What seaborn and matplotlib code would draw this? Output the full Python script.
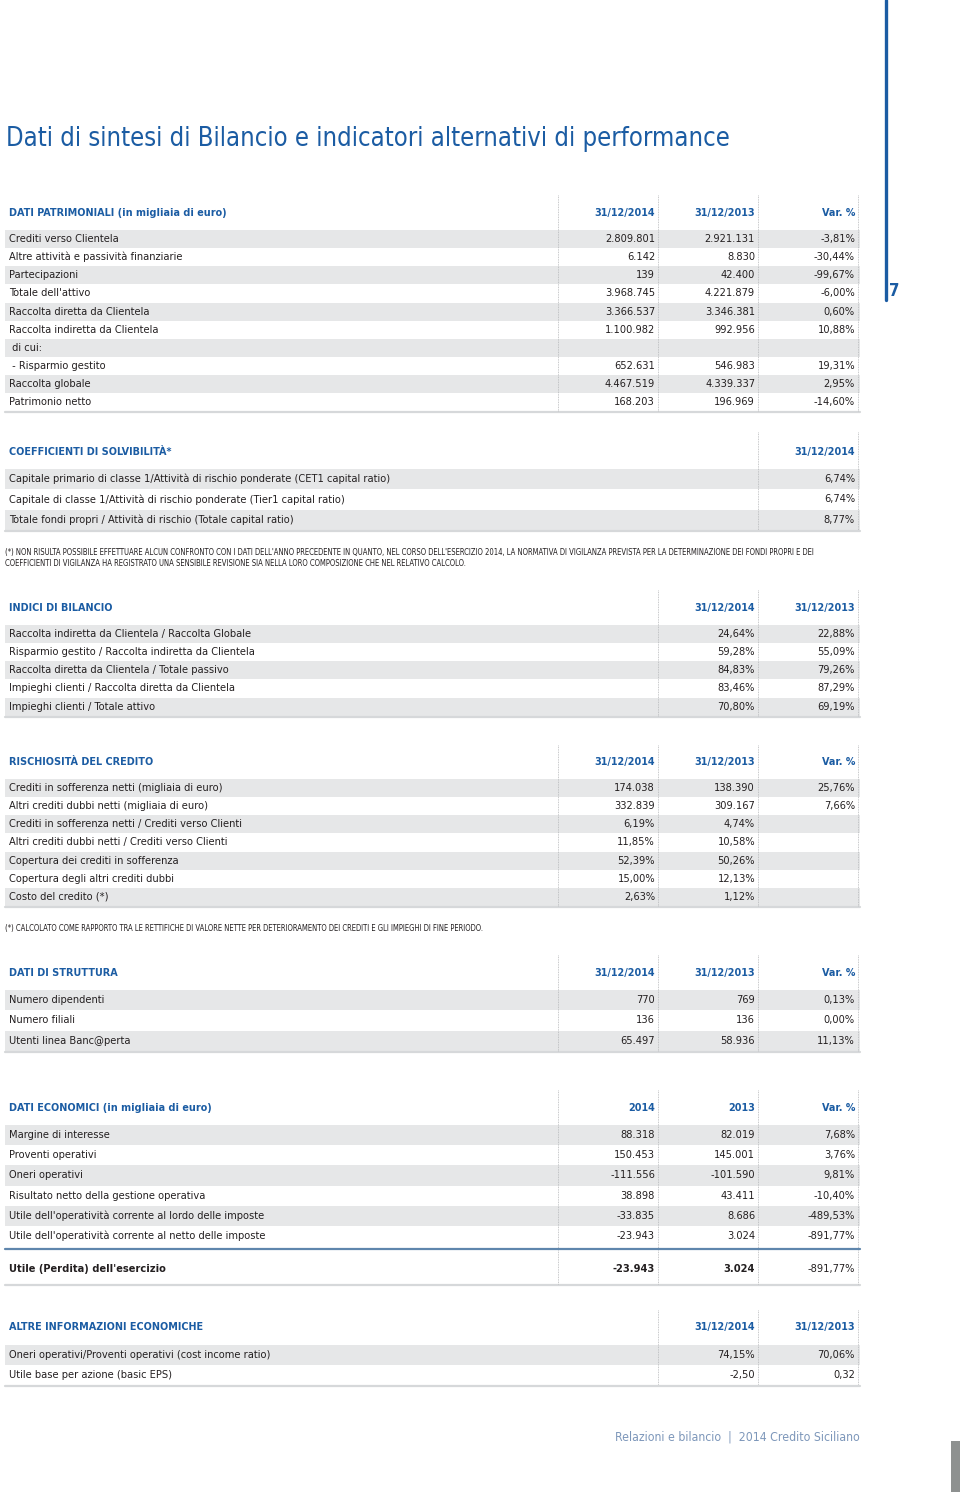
import matplotlib
matplotlib.use("Agg")
import matplotlib.pyplot as plt
from matplotlib import font_manager
from matplotlib.patches import Rectangle
import seaborn as sns

# ---- data ----
title = "Dati di sintesi di Bilancio e indicatori alternativi di performance"

patr_head = ["DATI PATRIMONIALI (in migliaia di euro)", "31/12/2014", "31/12/2013", "Var. %"]
patr_labels = ["Crediti verso Clientela", "Altre attività e passività finanziarie", "Partecipazioni",
               "Totale dell'attivo", "Raccolta diretta da Clientela", "Raccolta indiretta da Clientela",
               " di cui:", " - Risparmio gestito", "Raccolta globale", "Patrimonio netto"]
patr_2014 = ["2.809.801", "6.142", "139", "3.968.745", "3.366.537", "1.100.982", "", "652.631", "4.467.519", "168.203"]
patr_2013 = ["2.921.131", "8.830", "42.400", "4.221.879", "3.346.381", "992.956", "", "546.983", "4.339.337", "196.969"]
patr_var = ["-3,81%", "-30,44%", "-99,67%", "-6,00%", "0,60%", "10,88%", "", "19,31%", "2,95%", "-14,60%"]

solv_head = ["COEFFICIENTI DI SOLVIBILITÀ*", "31/12/2014"]
solv_labels = ["Capitale primario di classe 1/Attività di rischio ponderate (CET1 capital ratio)",
               "Capitale di classe 1/Attività di rischio ponderate (Tier1 capital ratio)",
               "Totale fondi propri / Attività di rischio (Totale capital ratio)"]
solv_2014 = ["6,74%", "6,74%", "8,77%"]
solv_note = ["(*) NON RISULTA POSSIBILE EFFETTUARE ALCUN CONFRONTO CON I DATI DELL'ANNO PRECEDENTE IN QUANTO, NEL CORSO DELL'ESERCIZIO 2014, LA NORMATIVA DI VIGILANZA PREVISTA PER LA DETERMINAZIONE DEI FONDI PROPRI E DEI",
             "COEFFICIENTI DI VIGILANZA HA REGISTRATO UNA SENSIBILE REVISIONE SIA NELLA LORO COMPOSIZIONE CHE NEL RELATIVO CALCOLO."]

ind_head = ["INDICI DI BILANCIO", "31/12/2014", "31/12/2013"]
ind_labels = ["Raccolta indiretta da Clientela / Raccolta Globale", "Risparmio gestito / Raccolta indiretta da Clientela",
              "Raccolta diretta da Clientela / Totale passivo", "Impieghi clienti / Raccolta diretta da Clientela",
              "Impieghi clienti / Totale attivo"]
ind_2014 = ["24,64%", "59,28%", "84,83%", "83,46%", "70,80%"]
ind_2013 = ["22,88%", "55,09%", "79,26%", "87,29%", "69,19%"]

risk_head = ["RISCHIOSITÀ DEL CREDITO", "31/12/2014", "31/12/2013", "Var. %"]
risk_labels = ["Crediti in sofferenza netti (migliaia di euro)", "Altri crediti dubbi netti (migliaia di euro)",
               "Crediti in sofferenza netti / Crediti verso Clienti", "Altri crediti dubbi netti / Crediti verso Clienti",
               "Copertura dei crediti in sofferenza", "Copertura degli altri crediti dubbi", "Costo del credito (*)"]
risk_2014 = ["174.038", "332.839", "6,19%", "11,85%", "52,39%", "15,00%", "2,63%"]
risk_2013 = ["138.390", "309.167", "4,74%", "10,58%", "50,26%", "12,13%", "1,12%"]
risk_var = ["25,76%", "7,66%", "", "", "", "", ""]
risk_note = ["(*) CALCOLATO COME RAPPORTO TRA LE RETTIFICHE DI VALORE NETTE PER DETERIORAMENTO DEI CREDITI E GLI IMPIEGHI DI FINE PERIODO."]

str_head = ["DATI DI STRUTTURA", "31/12/2014", "31/12/2013", "Var. %"]
str_labels = ["Numero dipendenti", "Numero filiali", "Utenti linea Banc@perta"]
str_2014 = ["770", "136", "65.497"]
str_2013 = ["769", "136", "58.936"]
str_var = ["0,13%", "0,00%", "11,13%"]

eco_head = ["DATI ECONOMICI (in migliaia di euro)", "2014", "2013", "Var. %"]
eco_labels = ["Margine di interesse", "Proventi operativi", "Oneri operativi", "Risultato netto della gestione operativa",
              "Utile dell'operatività corrente al lordo delle imposte", "Utile dell'operatività corrente al netto delle imposte"]
eco_2014 = ["88.318", "150.453", "-111.556", "38.898", "-33.835", "-23.943"]
eco_2013 = ["82.019", "145.001", "-101.590", "43.411", "8.686", "3.024"]
eco_var = ["7,68%", "3,76%", "9,81%", "-10,40%", "-489,53%", "-891,77%"]
eco_total = ["Utile (Perdita) dell'esercizio", "-23.943", "3.024", "-891,77%"]

altre_head = ["ALTRE INFORMAZIONI ECONOMICHE", "31/12/2014", "31/12/2013"]
altre_labels = ["Oneri operativi/Proventi operativi (cost income ratio)", "Utile base per azione (basic EPS)"]
altre_2014 = ["74,15%", "-2,50"]
altre_2013 = ["70,06%", "0,32"]

footer = "Relazioni e bilancio  |  2014 Credito Siciliano"
page_no = "7"

# ---- style ----
sns.set_theme(style="white")
installed = {f.name for f in font_manager.fontManager.ttflist}
dejavu_cond = any(f.name == "DejaVu Sans" and f.stretch == "condensed" for f in font_manager.fontManager.ttflist)
if "Liberation Sans Narrow" in installed:
    FAMILY, STRETCH = ["Liberation Sans Narrow", "DejaVu Sans"], "normal"
elif dejavu_cond:
    FAMILY, STRETCH = ["DejaVu Sans"], "condensed"
else:
    FAMILY, STRETCH = ["Roboto", "DejaVu Sans"], "normal"
plt.rcParams["font.family"] = FAMILY
plt.rcParams["font.stretch"] = STRETCH

BLUE = "#1b5ca3"
TXT = "#231f20"
STRIPE = "#e6e7e8"
RULE = "#d6d8da"
DOT = "#b5b7b9"

fig = plt.figure(figsize=(9.6, 14.92), dpi=100)
ax = fig.add_axes([0, 0, 1, 1])
ax.set_xlim(0, 960)
ax.set_ylim(1492, 0)
ax.axis("off")
renderer = fig.canvas.get_renderer()


def fit_size(text, target_px, weight="normal", ref=10.0, cap=None):
    # font size that makes `text` about target_px wide
    t = ax.text(0, 0, text, fontsize=ref, weight=weight)
    w = t.get_window_extent(renderer).width
    t.remove()
    s = ref * target_px / w
    return min(s, cap) if cap else s


FS = fit_size("2.809.801", 48, cap=9.5) * 1.05
FSB = fit_size("31/12/2014", 61, weight="bold", cap=9.5)
FS_T = fit_size(title, 728, cap=22)
FS_N = fit_size(solv_note[0], 823)
FS_F = fit_size(footer, 246, cap=10.5)

LEFT, RIGHT = 5, 860


def section(head, labels, cols, y_head, y0, step, col_x, dot_top, extra_bottom=0):
    n = len(labels)
    bottom = y0 - step / 2 + n * step
    for i in range(n):
        yc = y0 + i * step
        if i % 2 == 0:
            ax.add_patch(Rectangle((LEFT, yc - step / 2), RIGHT - LEFT, step, color=STRIPE, lw=0, zorder=1))
        ax.text(LEFT + 4, yc, labels[i], fontsize=FS, color=TXT, va="center", ha="left", zorder=3)
        for cx, col in zip(col_x, cols):
            ax.text(cx, yc, col[i], fontsize=FS, color=TXT, va="center", ha="right", zorder=3)
    ax.text(LEFT + 4, y_head, head[0], fontsize=FSB, color=BLUE, weight="bold", va="center", ha="left")
    for cx, h in zip(col_x, head[1:]):
        ax.text(cx, y_head, h, fontsize=FSB, color=BLUE, weight="bold", va="center", ha="right")
    full_bottom = bottom + extra_bottom
    ax.plot([LEFT, RIGHT], [full_bottom + 1, full_bottom + 1], color=RULE, lw=1.6, zorder=2)
    for cx in col_x:
        ax.plot([cx - 97, cx - 97], [dot_top, full_bottom], color=DOT, lw=0.6, ls=(0, (1, 1)), zorder=2)
    ax.plot([RIGHT - 2, RIGHT - 2], [dot_top, full_bottom], color=DOT, lw=0.6, ls=(0, (1, 1)), zorder=2)
    return bottom


# title and page marker
ax.text(6, 139, title, fontsize=FS_T, color=BLUE, va="center", ha="left")
ax.plot([886, 886], [0, 300], color=BLUE, lw=2.4)
ax.text(889, 291, page_no, fontsize=12, color=BLUE, weight="bold", va="center", ha="left")

section(patr_head, patr_labels, [patr_2014, patr_2013, patr_var], 213, 239, 18.15, [655, 755, 855], 195)
section(solv_head, solv_labels, [solv_2014], 452, 479, 20.4, [855], 432)
for k, line in enumerate(solv_note):
    ax.text(LEFT, 552 + k * 11, line, fontsize=FS_N, color=TXT, va="center", ha="left")
section(ind_head, ind_labels, [ind_2014, ind_2013], 608, 634, 18.15, [755, 855], 590)
section(risk_head, risk_labels, [risk_2014, risk_2013, risk_var], 762, 788, 18.15, [655, 755, 855], 745)
ax.text(LEFT, 929, risk_note[0], fontsize=FS_N, color=TXT, va="center", ha="left")
section(str_head, str_labels, [str_2014, str_2013, str_var], 973, 1000, 20.4, [655, 755, 855], 955)

b = section(eco_head, eco_labels, [eco_2014, eco_2013, eco_var], 1108, 1135, 20.2, [655, 755, 855], 1090,
            extra_bottom=38)
ax.plot([LEFT, RIGHT], [b + 3, b + 3], color="#5f86ad", lw=1.6, zorder=4)
ax.add_patch(Rectangle((LEFT, b + 4), RIGHT - LEFT, 36, color="white", lw=0, zorder=1.5))
yt = 1269
ax.text(LEFT + 4, yt, eco_total[0], fontsize=FS, color=TXT, weight="bold", va="center", ha="left", zorder=3)
ax.text(655, yt, eco_total[1], fontsize=FS, color=TXT, weight="bold", va="center", ha="right", zorder=3)
ax.text(755, yt, eco_total[2], fontsize=FS, color=TXT, weight="bold", va="center", ha="right", zorder=3)
ax.text(855, yt, eco_total[3], fontsize=FS, color=TXT, va="center", ha="right", zorder=3)

section(altre_head, altre_labels, [altre_2014, altre_2013], 1327, 1355, 20.2, [755, 855], 1310)

ax.text(860, 1437, footer, fontsize=FS_F, color="#7d97ba", va="center", ha="right")
ax.add_patch(Rectangle((951, 1441), 9, 51, color="#8e9190", lw=0))

fig.savefig("out.png", dpi=100)
